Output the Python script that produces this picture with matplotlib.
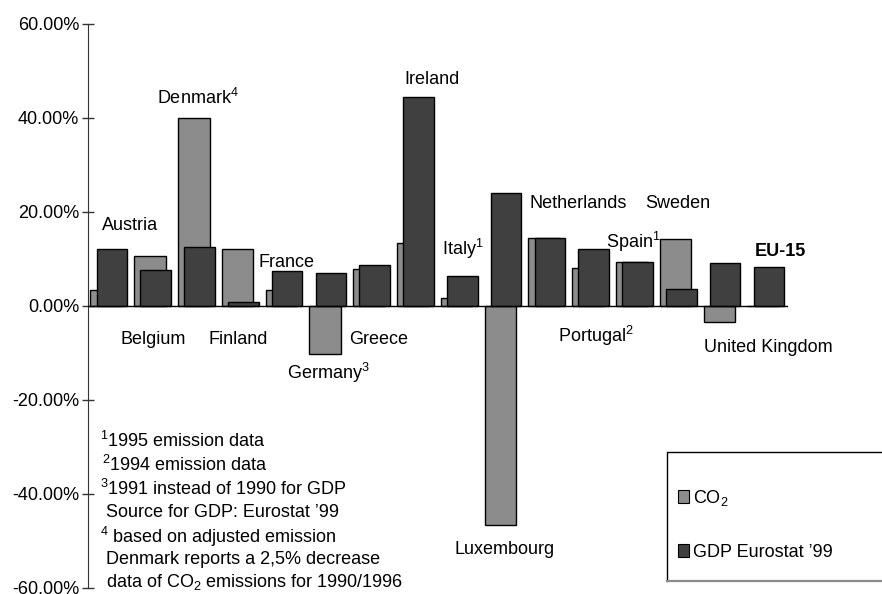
import numpy as np
import matplotlib.pyplot as plt
from matplotlib.patches import Rectangle
from matplotlib.lines import Line2D

plt.rcParams['font.family'] = ['Liberation Sans', 'DejaVu Sans']
plt.rcParams['mathtext.fontset'] = 'custom'
plt.rcParams['mathtext.rm'] = 'Liberation Sans'
plt.rcParams['mathtext.it'] = 'Liberation Sans'
plt.rcParams['mathtext.bf'] = 'Liberation Sans:bold'

# data (% change 1990-1997)
countries = ['Austria', 'Belgium', 'Denmark', 'Finland', 'France', 'Germany', 'Greece',
             'Ireland', 'Italy', 'Luxembourg', 'Netherlands', 'Portugal', 'Spain',
             'Sweden', 'United Kingdom', 'EU-15']
co2 = [3.3, 10.7, 40.0, 12.2, 3.3, -10.2, 7.8, 13.5, 1.6, -46.7, 14.5, 8.1, 9.4, 14.2, -3.5, 0.0]
gdp = [12.2, 7.7, 12.5, 0.9, 7.4, 7.0, 8.7, 44.4, 6.3, 24.1, 14.5, 12.2, 9.4, 3.7, 9.1, 8.2]
labels = ['Austria', 'Belgium', 'Denmark$^4$', 'Finland', 'France', 'Germany$^3$', 'Greece',
          'Ireland', 'Italy$^1$', 'Luxembourg', 'Netherlands', 'Portugal$^2$', 'Spain$^1$',
          'Sweden', 'United Kingdom', 'EU-15']
# label anchor (x, y) in data units
label_pos = [(-0.233, 16.1), (0.20, -8.15), (1.037, 43.0), (2.20, -8.15), (3.342, 8.2),
             (3.99, -15.6), (5.413, -8.15), (6.669, 47.2), (7.53, 10.8), (7.82, -52.8),
             (9.545, 20.9), (10.18, -7.7), (11.27, 12.4), (12.17, 20.9), (13.52, -9.7),
             (14.68, 10.6)]

c_co2 = '#8c8c8c'
c_gdp = '#404040'

W, H = 882, 594
fig = plt.figure(figsize=(8.82, 5.94), dpi=100)
ax = fig.add_axes([87.7 / W, 1 - 588 / H, (788 - 87.7) / W, 564 / H])

x = np.arange(len(countries))
ax.bar(x - 0.13, co2, width=0.72, color=c_co2, edgecolor='black', linewidth=1, zorder=2)
ax.bar(x, gdp, width=0.695, color=c_gdp, edgecolor='black', linewidth=1, zorder=3)
ax.axhline(0, color='black', lw=1, zorder=4)

ax.set_xlim(-0.5525, 15.436)
ax.set_ylim(-60, 60)
ax.set_yticks([-60, -40, -20, 0, 20, 40, 60])
ax.set_yticklabels(['%.2f%%' % v for v in [-60, -40, -20, 0, 20, 40, 60]])
ax.set_xticks([])
for s in ['top', 'right', 'bottom']:
    ax.spines[s].set_visible(False)
ax.spines['left'].set_color('#333333')
ax.tick_params(axis='y', direction='inout', length=8, width=1, color='#333333',
               labelsize=13, pad=2)

for (lx, ly), lab in zip(label_pos, labels):
    ax.text(lx, ly, lab, fontsize=13, ha='left', va='baseline',
            fontweight='bold' if lab == 'EU-15' else 'normal')

def fx(px):
    return px / W

def fy(py):
    return 1 - py / H

notes = [(100, 447.3, '$^1$1995 emission data'),
         (101.5, 471, '$^2$1994 emission data'),
         (100, 495, '$^3$1991 instead of 1990 for GDP'),
         (106, 516.7, 'Source for GDP: Eurostat \u201999'),
         (100, 543.3, '$^4$ based on adjusted emission'),
         (106, 564, 'Denmark reports a 2,5% decrease'),
         (106, 586.7, 'data of CO$_2$ emissions for 1990/1996')]
for px, py, t in notes:
    fig.text(fx(px), fy(py), t, fontsize=13, ha='left', va='baseline')

# legend box (runs off the right edge, grey bottom rule)
fig.add_artist(Rectangle((fx(667.3), fy(581)), fx(300), 129.3 / H, transform=fig.transFigure,
                         facecolor='white', edgecolor='none', zorder=5))
fig.add_artist(Line2D([fx(667.3), fx(667.3), fx(900)], [fy(581), fy(451.7), fy(451.7)],
                      transform=fig.transFigure, color='black', lw=1, zorder=6))
fig.add_artist(Line2D([fx(667.3), fx(900)], [fy(581), fy(581)],
                      transform=fig.transFigure, color='#8a8a8a', lw=1.6, zorder=6))
fig.add_artist(Rectangle((fx(677.7), fy(503.3)), fx(11), 13.3 / H, transform=fig.transFigure,
                         facecolor=c_co2, edgecolor='black', lw=0.8, zorder=6))
fig.add_artist(Rectangle((fx(677.7), fy(557.3)), fx(11), 13.3 / H, transform=fig.transFigure,
                         facecolor=c_gdp, edgecolor='black', lw=0.8, zorder=6))
fig.text(fx(692.7), fy(503.3), 'CO$_2$', fontsize=13, ha='left', va='baseline', zorder=7)
fig.text(fx(692.7), fy(557.3), 'GDP Eurostat \u201999', fontsize=13, ha='left', va='baseline', zorder=7)

fig.savefig('out.png', dpi=100)
